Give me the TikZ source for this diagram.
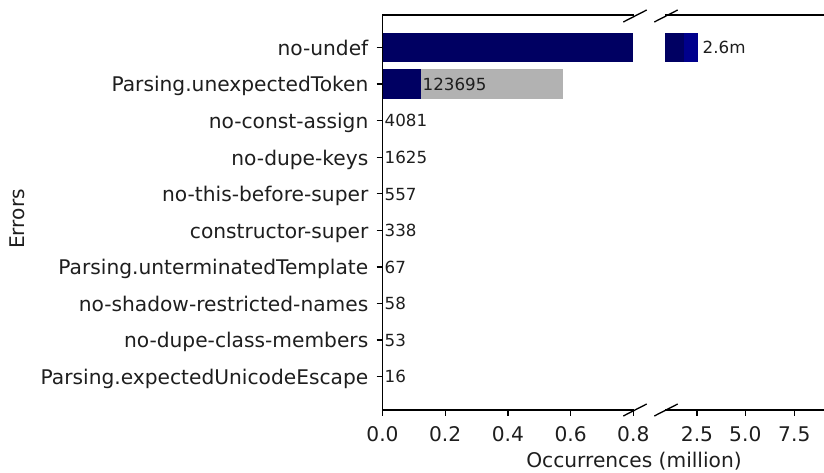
\documentclass[tikz,border=0pt]{standalone}
\usepackage{fontspec}
\setmainfont{DejaVu Sans}
\definecolor{barnavy}{RGB}{0,0,98}
\definecolor{barblue}{RGB}{0,0,140}
\definecolor{bargray}{RGB}{178,178,178}
\definecolor{inktext}{RGB}{30,30,30}
\newcommand{\rowy}[1]{47.5+36.58*#1}
\begin{document}
\begin{tikzpicture}[x=1pt,y=-1pt,
  spine/.style={line width=1.33pt,black,line cap=rect},
  axtick/.style={line width=1.33pt,black},
  brk/.style={line width=1.33pt,black},
  ticklbl/.style={font=\fontsize{20.2}{24}\selectfont,inner sep=0pt,text=inktext},
  vallbl/.style={font=\fontsize{16.7}{20}\selectfont,inner sep=0pt,anchor=base west,text=inktext},
  bar/.style={draw=none}]
\useasboundingbox (0,0) rectangle (824,473);

% bars
\fill[barnavy] (382.5,{\rowy{0}-14.6}) rectangle (633.3,{\rowy{0}+14.6});
\fill[barnavy] (665,{\rowy{0}-14.6}) rectangle (683.5,{\rowy{0}+14.6});
\fill[barblue] (683.5,{\rowy{0}-14.6}) rectangle (697.5,{\rowy{0}+14.6});
\fill[barnavy] (382.5,{\rowy{1}-14.6}) rectangle (421,{\rowy{1}+14.6});
\fill[bargray] (421,{\rowy{1}-14.6}) rectangle (562.8,{\rowy{1}+14.6});

% spines of the left panel
\draw[spine] (382.5,15) -- (382.5,410);
\draw[spine] (382.5,15) -- (633.3,15);
\draw[spine] (382.5,410) -- (633.3,410);
% spines of the right panel
\draw[spine] (665.5,15) -- (824,15);
\draw[spine] (665.5,410) -- (824,410);

% break marks
\coordinate (bl1) at (635,16);
\coordinate (br1) at (666,16);
\coordinate (bl2) at (635,410);
\coordinate (br2) at (666,410);
\foreach \c in {bl1,br1,bl2,br2}
  \draw[brk] ([shift={(-11.7,6)}]\c) -- ([shift={(11.7,-6)}]\c);

% y ticks and category labels
\foreach \i/\t in {0/no-undef,1/Parsing.unexpectedToken,2/no-const-assign,
  3/no-dupe-keys,4/no-this-before-super,5/constructor-super,
  6/Parsing.unterminatedTemplate,7/no-shadow-restricted-names,
  8/no-dupe-class-members,9/Parsing.expectedUnicodeEscape}{
  \draw[axtick] (376.5,{\rowy{\i}}) -- (382.5,{\rowy{\i}});
  \node[ticklbl,anchor=base east] (cat\i) at (368.5,{\rowy{\i}+7.8}) {\t};
}

% value labels
\node[vallbl] (v0) at (702.5,{\rowy{0}+6.2}) {2.6m};
\node[vallbl] (v1) at (422.5,{\rowy{1}+6.2}) {123695};
\foreach \i/\v in {2/4081,3/1625,4/557,5/338,6/67,7/58,8/53,9/16}
  \node[vallbl] (v\i) at (384.5,{\rowy{\i}+6.2}) {\v};

% x ticks and labels
\foreach \x/\t in {382.5/0.0,445.2/0.2,507.9/0.4,570.6/0.6,633.3/0.8,697/2.5,745.3/5.0,794.3/7.5}{
  \draw[axtick] (\x,410) -- (\x,416);
  \node[ticklbl,anchor=base] at (\x,441) {\t};
}

% axis titles
\node[ticklbl,anchor=base] (xt) at (634,467) {Occurrences (million)};
\node[ticklbl,anchor=base,rotate=90] (yt) at (24.3,219) {Errors};
\end{tikzpicture}
\end{document}
